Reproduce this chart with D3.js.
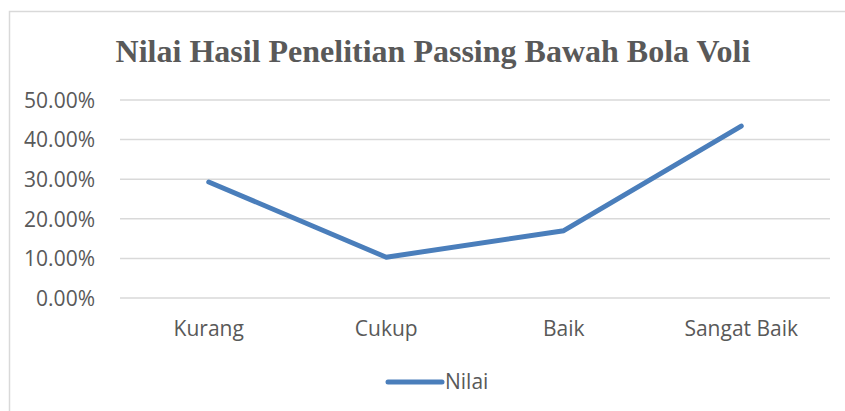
<!DOCTYPE html>
<html>
<head>
<meta charset="utf-8">
<script src="https://cdn.jsdelivr.net/npm/d3@7"></script>
<style>
  body { margin: 0; background: #fff; }
  text { font-family: "Open Sans", sans-serif; fill: #595959; }
</style>
</head>
<body>
<div id="chart"></div>
<script>
var categories = ["Kurang", "Cukup", "Baik", "Sangat Baik"];
var nilai = [0.293, 0.103, 0.170, 0.434];
var yTicks = [0, 0.1, 0.2, 0.3, 0.4, 0.5];
var seriesName = "Nilai";
var chartTitle = "Nilai Hasil Penelitian Passing Bawah Bola Voli";

var width = 845, height = 411;
var margin = { top: 100, left: 120, right: 15, bottom: 113 };

var svg = d3.select("#chart")
    .append("svg")
    .attr("width", width)
    .attr("height", height);

// chart border (only left/top visible in the crop)
svg.append("rect")
    .attr("x", 9.5).attr("y", 11.5)
    .attr("width", 900).attr("height", 500)
    .attr("fill", "none")
    .attr("stroke", "#d9d9d9")
    .attr("stroke-width", 1.5);

svg.append("text")
    .attr("x", 433).attr("y", 62)
    .attr("text-anchor", "middle")
    .style("font-family", "'Liberation Serif', 'Times New Roman', serif")
    .style("font-weight", "bold")
    .style("font-size", "32px")
    .text(chartTitle);

var x = d3.scaleBand()
    .domain(categories)
    .range([margin.left, width - margin.right]);

var y = d3.scaleLinear()
    .domain([0, 0.5])
    .range([height - margin.bottom, margin.top]);

// gridlines
svg.append("g")
    .selectAll("line")
    .data(yTicks)
    .enter()
    .append("line")
    .attr("x1", margin.left).attr("x2", width - margin.right)
    .attr("y1", d => y(d)).attr("y2", d => y(d))
    .attr("stroke", "#d9d9d9")
    .attr("stroke-width", 1.5);

var yAxis = svg.append("g")
    .attr("transform", "translate(" + (margin.left - 22) + ",0)")
    .call(d3.axisLeft(y).tickValues(yTicks).tickSize(0).tickFormat(d3.format(".2%")));
yAxis.select(".domain").remove();
yAxis.selectAll("text")
    .attr("dy", "0.35em")
    .style("font-size", "21px");

var xAxis = svg.append("g")
    .attr("transform", "translate(0," + (height - margin.bottom) + ")")
    .call(d3.axisBottom(x).tickSize(0));
xAxis.select(".domain").remove();
xAxis.selectAll("text")
    .attr("y", 0)
    .attr("dy", "38px")
    .style("font-size", "21px");

var line = d3.line()
    .x((d, i) => x(categories[i]) + x.bandwidth() / 2)
    .y(d => y(d));

svg.append("path")
    .datum(nilai)
    .attr("d", line)
    .attr("fill", "none")
    .attr("stroke", "#4a7ebb")
    .attr("stroke-width", 5)
    .attr("stroke-linecap", "round")
    .attr("stroke-linejoin", "round");

// legend
var legend = svg.append("g").attr("transform", "translate(388,382)");
legend.append("line")
    .attr("x1", 0).attr("x2", 54)
    .attr("stroke", "#4a7ebb")
    .attr("stroke-width", 5)
    .attr("stroke-linecap", "round");
legend.append("text")
    .attr("x", 57).attr("y", 0)
    .attr("dy", "0.35em")
    .style("font-size", "21px")
    .text(seriesName);
</script>
</body>
</html>
